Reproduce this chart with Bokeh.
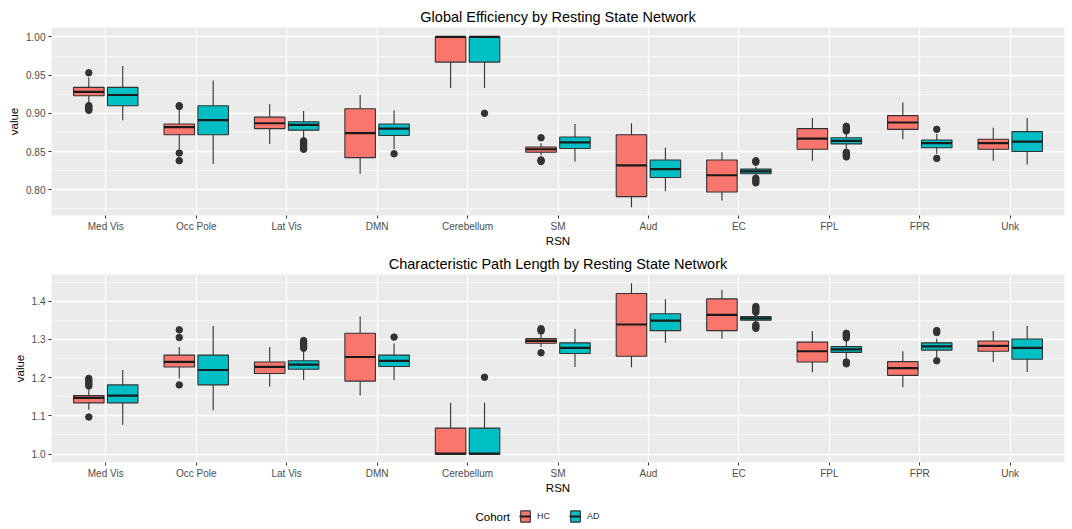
import numpy as np
from bokeh.plotting import figure
from bokeh.layouts import column
from bokeh.models import (Range1d, FixedTicker, NumeralTickFormatter, Legend, LegendItem,
                          ColumnDataSource, Label)
from bokeh.embed import file_html
from bokeh.resources import INLINE

cats = ["Med Vis", "Occ Pole", "Lat Vis", "DMN", "Cerebellum", "SM", "Aud", "EC", "FPL", "FPR", "Unk"]
cohorts = ["HC", "AD"]

# Global efficiency
ge_hc_lo = [0.912, 0.853, 0.860, 0.821, 0.933, 0.845, 0.777, 0.786, 0.838, 0.866, 0.838]
ge_hc_q1 = [0.923, 0.872, 0.880, 0.842, 0.967, 0.849, 0.791, 0.797, 0.853, 0.879, 0.853]
ge_hc_md = [0.928, 0.882, 0.887, 0.874, 1.000, 0.853, 0.832, 0.819, 0.867, 0.888, 0.861]
ge_hc_q3 = [0.934, 0.886, 0.895, 0.906, 1.000, 0.856, 0.872, 0.839, 0.880, 0.897, 0.866]
ge_hc_hi = [0.947, 0.907, 0.912, 0.924, 1.000, 0.861, 0.887, 0.849, 0.894, 0.914, 0.881]

ge_ad_lo = [0.891, 0.834, 0.865, 0.853, 0.933, 0.837, 0.798, 0.818, 0.853, 0.847, 0.833]
ge_ad_q1 = [0.910, 0.872, 0.878, 0.871, 0.967, 0.854, 0.816, 0.821, 0.860, 0.855, 0.850]
ge_ad_md = [0.924, 0.891, 0.885, 0.880, 1.000, 0.862, 0.827, 0.824, 0.864, 0.861, 0.863]
ge_ad_q3 = [0.934, 0.910, 0.889, 0.886, 1.000, 0.869, 0.839, 0.827, 0.868, 0.865, 0.876]
ge_ad_hi = [0.962, 0.943, 0.903, 0.904, 1.000, 0.886, 0.855, 0.830, 0.875, 0.873, 0.894]

ge_hc_out_cat = ["Med Vis"] * 6 + ["Occ Pole"] * 4 + ["SM"] * 4
ge_hc_out_val = [0.953, 0.910, 0.909, 0.907, 0.905, 0.904,
                 0.910, 0.909, 0.848, 0.838,
                 0.868, 0.839, 0.838, 0.837]
ge_ad_out_cat = ["Lat Vis"] * 7 + ["DMN"] + ["Cerebellum"] + ["EC"] * 5 + ["FPL"] * 8 + ["FPR"] * 2
ge_ad_out_val = [0.864, 0.862, 0.860, 0.858, 0.856, 0.854, 0.853,
                 0.847,
                 0.900,
                 0.838, 0.836, 0.815, 0.812, 0.809,
                 0.883, 0.881, 0.879, 0.877, 0.849, 0.847, 0.845, 0.843,
                 0.879, 0.841]

# Characteristic path length
cpl_hc_lo = [1.116, 1.198, 1.177, 1.153, 1.000, 1.280, 1.227, 1.302, 1.214, 1.175, 1.241]
cpl_hc_q1 = [1.134, 1.228, 1.211, 1.191, 1.000, 1.290, 1.256, 1.323, 1.241, 1.206, 1.269]
cpl_hc_md = [1.147, 1.241, 1.228, 1.254, 1.001, 1.296, 1.339, 1.364, 1.269, 1.225, 1.283]
cpl_hc_q3 = [1.153, 1.259, 1.241, 1.316, 1.068, 1.302, 1.420, 1.406, 1.293, 1.242, 1.296]
cpl_hc_hi = [1.168, 1.280, 1.280, 1.360, 1.134, 1.316, 1.447, 1.429, 1.322, 1.269, 1.322]

cpl_ad_lo = [1.077, 1.115, 1.194, 1.194, 1.000, 1.228, 1.291, 1.342, 1.250, 1.254, 1.215]
cpl_ad_q1 = [1.134, 1.181, 1.222, 1.229, 1.000, 1.263, 1.323, 1.350, 1.266, 1.272, 1.248]
cpl_ad_md = [1.153, 1.220, 1.234, 1.244, 1.001, 1.278, 1.349, 1.355, 1.274, 1.282, 1.278]
cpl_ad_q3 = [1.181, 1.259, 1.244, 1.259, 1.068, 1.291, 1.367, 1.360, 1.281, 1.291, 1.301]
cpl_ad_hi = [1.220, 1.335, 1.272, 1.289, 1.134, 1.328, 1.405, 1.366, 1.297, 1.302, 1.335]

cpl_hc_out_cat = ["Med Vis"] * 6 + ["Occ Pole"] * 3 + ["SM"] * 4
cpl_hc_out_val = [1.198, 1.193, 1.188, 1.183, 1.178, 1.097,
                  1.325, 1.305, 1.181,
                  1.328, 1.325, 1.322, 1.265]
cpl_ad_out_cat = ["Lat Vis"] * 6 + ["DMN"] + ["Cerebellum"] + ["EC"] * 7 + ["FPL"] * 6 + ["FPR"] * 3
cpl_ad_out_val = [1.297, 1.293, 1.289, 1.285, 1.281, 1.277,
                  1.306,
                  1.201,
                  1.386, 1.381, 1.376, 1.371, 1.338, 1.334, 1.329,
                  1.316, 1.312, 1.308, 1.304, 1.241, 1.236,
                  1.323, 1.318, 1.244]

ge_ticks = [0.80, 0.85, 0.90, 0.95, 1.00]
ge_minor = [0.775, 0.825, 0.875, 0.925, 0.975]
cpl_ticks = [1.0, 1.1, 1.2, 1.3, 1.4]
cpl_minor = [1.05, 1.15, 1.25, 1.35, 1.45]

HC_COL = "#F8766D"
AD_COL = "#00BFC4"
FONT = "Liberation Sans"
DODGE = 0.1875
BOXW = 0.3375
FRAME_H = 188
FRAME_W = 1013

xpos = {c: i + 1 for i, c in enumerate(cats)}


def draw_group(p, lo, q1, md, q3, hi, out_cat, out_val, offset, color):
    x = np.arange(1, len(cats) + 1) + offset
    src = ColumnDataSource(dict(x=x, lo=lo, q1=q1, md=md, q3=q3, hi=hi,
                                xl=x - BOXW / 2, xr=x + BOXW / 2))
    p.segment(x0="x", x1="x", y0="lo", y1="hi", source=src, line_color="#333333", line_width=1.1)
    p.vbar(x="x", width=BOXW, bottom="q1", top="q3", source=src,
           fill_color=color, line_color="#333333", line_width=1.1)
    p.segment(x0="xl", x1="xr", y0="md", y1="md", source=src, line_color="#1a1a1a", line_width=2.2)
    ox = [xpos[c] + offset for c in out_cat]
    p.scatter(ox, out_val, size=6.5, fill_color="#333333", line_color="#333333")


def make_panel(title, yr, ticks, minor, fmt, hc, ad, hc_out, ad_out, top_border):
    p = figure(x_range=Range1d(0.4, len(cats) + 0.6), y_range=Range1d(*yr),
               frame_width=FRAME_W, frame_height=FRAME_H, output_backend="svg", toolbar_location=None,
               title=title, min_border_left=51, min_border_right=3,
               min_border_top=top_border, min_border_bottom=5)
    p.background_fill_color = "#EBEBEB"
    p.border_fill_color = "white"
    p.outline_line_color = None
    p.title.text_font = FONT
    p.title.text_font_size = "14.5px"
    p.title.text_font_style = "normal"
    p.title.text_color = "black"
    p.title.align = "center"
    p.title.standoff = 5

    p.xaxis.ticker = FixedTicker(ticks=list(range(1, len(cats) + 1)))
    p.xaxis.major_label_overrides = {i + 1: c for i, c in enumerate(cats)}
    p.xgrid.ticker = FixedTicker(ticks=list(range(1, len(cats) + 1)))
    p.yaxis.ticker = FixedTicker(ticks=ticks, minor_ticks=minor)
    p.ygrid.ticker = FixedTicker(ticks=ticks, minor_ticks=minor)
    p.yaxis.formatter = NumeralTickFormatter(format=fmt)

    p.grid.grid_line_color = "white"
    p.grid.grid_line_width = 1.3
    p.ygrid.minor_grid_line_color = "white"
    p.ygrid.minor_grid_line_width = 0.6

    p.axis.axis_line_color = None
    p.axis.major_tick_line_color = "#333333"
    p.axis.major_tick_out = 3
    p.axis.major_tick_in = 0
    p.axis.minor_tick_line_color = None
    p.axis.major_label_text_font = FONT
    p.axis.major_label_text_font_size = "10px"
    p.axis.major_label_text_color = "#4D4D4D"
    p.axis.major_label_standoff = 2
    p.axis.axis_label_text_font = FONT
    p.axis.axis_label_text_font_style = "normal"
    p.axis.axis_label_text_color = "black"
    p.axis.axis_label_text_font_size = "11.5px"
    p.xaxis.axis_label = "RSN"
    p.yaxis.axis_label = "value"
    p.xaxis.axis_label_standoff = 0
    p.yaxis.axis_label_standoff = 3

    draw_group(p, *hc, *hc_out, -DODGE, HC_COL)
    draw_group(p, *ad, *ad_out, DODGE, AD_COL)
    return p


p1 = make_panel("Global Efficiency by Resting State Network", (0.7663, 1.0123), ge_ticks, ge_minor, "0.00",
                (ge_hc_lo, ge_hc_q1, ge_hc_md, ge_hc_q3, ge_hc_hi),
                (ge_ad_lo, ge_ad_q1, ge_ad_md, ge_ad_q3, ge_ad_hi),
                (ge_hc_out_cat, ge_hc_out_val), (ge_ad_out_cat, ge_ad_out_val), 27)

p2 = make_panel("Characteristic Path Length by Resting State Network", (0.978, 1.4698), cpl_ticks, cpl_minor, "0.0",
                (cpl_hc_lo, cpl_hc_q1, cpl_hc_md, cpl_hc_q3, cpl_hc_hi),
                (cpl_ad_lo, cpl_ad_q1, cpl_ad_md, cpl_ad_q3, cpl_ad_hi),
                (cpl_hc_out_cat, cpl_hc_out_val), (cpl_ad_out_cat, cpl_ad_out_val), 25)

# Legend strip (Cohort: HC / AD); its frame is aligned with the panels above
pl = figure(frame_width=FRAME_W, frame_height=30, x_range=Range1d(0, 1), y_range=Range1d(0, 1),
            output_backend="svg", toolbar_location=None, x_axis_type=None, y_axis_type=None,
            min_border_left=51, min_border_right=3, min_border_top=0, min_border_bottom=0)
pl.grid.visible = False
pl.outline_line_color = None
items = []
for lab, col in zip(cohorts, [HC_COL, AD_COL]):
    # key-only renderers: their single row lies outside the visible range
    key_src = ColumnDataSource(dict(x=[-5.0], top=[-5.0], bottom=[-6.0], x0=[-5.0], x1=[-4.0], y=[-5.0]))
    vb = pl.vbar(x="x", top="top", bottom="bottom", width=0.1, source=key_src,
                 fill_color=col, line_color="#333333", line_width=1.1)
    md = pl.segment(x0="x0", x1="x1", y0="y", y1="y", source=key_src, line_color="#1a1a1a", line_width=2)
    items.append(LegendItem(label=lab, renderers=[vb, md]))
legend = Legend(items=items, orientation="horizontal", location=(468, 3),
                border_line_color=None, background_fill_alpha=0,
                glyph_width=12, glyph_height=14, label_text_font=FONT, label_text_font_size="9px",
                label_text_color="#333333", label_standoff=6, spacing=12, padding=0, margin=0)
pl.add_layout(legend, "center")
pl.add_layout(Label(x=424, y=10, x_units="screen", y_units="screen", text="Cohort",
                    text_font=FONT, text_font_size="11.5px", text_color="black",
                    text_align="left", text_baseline="middle"))

layout = column(p1, p2, pl, spacing=0)
open("out.html", "w").write(file_html(layout, INLINE))
